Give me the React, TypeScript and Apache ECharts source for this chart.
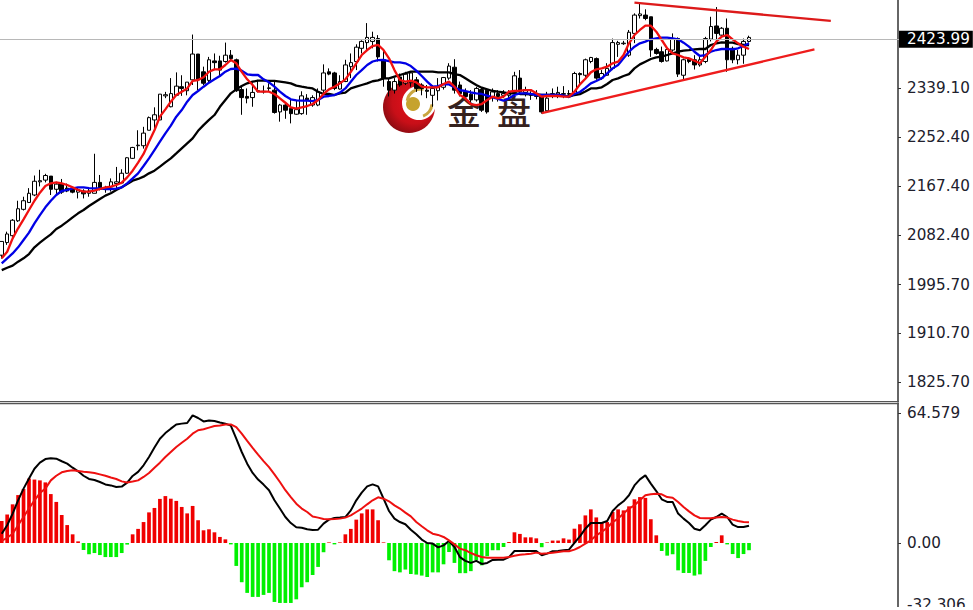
import React, { useEffect, useRef } from "react";
import * as echarts from "echarts";

const opens = [
  2047,2069,2081,2107,2127,2139,2152,2175,2178,2185,
  2162,2172,2164,2162,2157,2159,2155,2155,2174,2162,
  2166,2172,2173,2190,2216,2238,2238,2265,2283,2283,
  2325,2306,2326,2341,2334,2353,2398,2367,2352,2386,
  2386,2385,2396,2388,2336,2324,2322,2333,2332,2338,
  2335,2297,2309,2303,2293,2294,2321,2309,2309,2335,
  2367,2365,2337,2350,2376,2385,2408,2418,2420,2425,
  2388,2350,2335,2358,2347,2348,2353,2344,2335,2326,
  2334,2340,2356,2375,2344,2332,2328,2318,2336,2335,
  2324,2329,2326,2326,2331,2356,2331,2326,2328,2326,
  2299,2326,2328,2328,2329,2329,2364,2361,2385,2390,
  2356,2361,2373,2415,2416,2396,2434,2465,2466,2463,
  2406,2402,2386,2405,2425,2361,2389,2388,2379,2385,
  2424,2447,2431,2443,2408,2388,2396,2420,
];
const closes = [
  2071,2084,2108,2128,2142,2155,2176,2177,2186,2162,
  2171,2157,2159,2157,2161,2154,2159,2174,2162,2163,
  2175,2175,2190,2217,2235,2239,2260,2287,2292,2328,
  2327,2329,2342,2338,2349,2398,2353,2347,2388,2383,
  2370,2396,2390,2334,2322,2321,2331,2334,2333,2339,
  2296,2309,2300,2294,2301,2325,2318,2322,2332,2365,
  2363,2338,2350,2379,2383,2410,2420,2427,2427,2393,
  2356,2335,2350,2344,2363,2365,2338,2338,2333,2338,
  2341,2357,2377,2335,2329,2324,2318,2338,2300,2297,
  2332,2324,2329,2331,2360,2332,2336,2328,2324,2297,
  2321,2329,2331,2329,2328,2364,2362,2388,2392,2356,
  2364,2373,2418,2418,2417,2436,2466,2468,2460,2405,
  2399,2385,2406,2425,2363,2388,2385,2379,2388,2425,
  2446,2434,2443,2388,2388,2396,2420,2427,
];
const lows = [
  2041,2065,2079,2105,2125,2138,2150,2167,2174,2152,
  2152,2154,2157,2155,2146,2146,2149,2155,2160,2156,
  2158,2164,2171,2189,2215,2230,2233,2265,2265,2283,
  2321,2305,2325,2325,2326,2344,2335,2344,2347,2370,
  2358,2383,2385,2332,2292,2312,2306,2331,2329,2332,
  2294,2280,2285,2277,2292,2292,2292,2306,2307,2329,
  2361,2335,2336,2349,2356,2370,2399,2405,2408,2385,
  2341,2324,2329,2341,2344,2341,2332,2326,2321,2306,
  2317,2336,2353,2329,2324,2321,2312,2315,2297,2294,
  2315,2315,2321,2321,2328,2329,2324,2318,2319,2294,
  2296,2321,2321,2321,2321,2326,2344,2358,2382,2353,
  2353,2360,2370,2393,2414,2393,2417,2460,2457,2393,
  2397,2383,2385,2402,2358,2354,2382,2371,2376,2382,
  2420,2417,2428,2367,2382,2380,2381,2418,
];
const highs = [
  2071,2088,2110,2142,2149,2164,2186,2196,2189,2185,
  2175,2180,2172,2165,2165,2162,2164,2224,2187,2168,
  2181,2201,2197,2218,2236,2265,2271,2289,2305,2328,
  2332,2356,2366,2361,2349,2432,2398,2376,2393,2399,
  2395,2418,2405,2390,2341,2338,2347,2353,2343,2347,
  2351,2311,2312,2318,2318,2333,2328,2326,2338,2380,
  2373,2367,2361,2388,2399,2415,2422,2452,2437,2431,
  2405,2356,2356,2364,2367,2367,2358,2347,2344,2344,
  2356,2358,2382,2389,2350,2338,2335,2341,2340,2338,
  2338,2335,2335,2335,2367,2370,2341,2333,2335,2328,
  2332,2338,2341,2342,2335,2367,2366,2390,2393,2392,
  2370,2382,2425,2421,2421,2440,2469,2486,2476,2463,
  2409,2411,2408,2434,2427,2390,2392,2396,2393,2428,
  2463,2480,2445,2460,2411,2405,2425,2430,
];
const maFast = [
  2041.5,2053,2076.4,2093.9,2109.6,2125.8,2142,2156,2167.7,2172.4,
  2174,2172.4,2169.5,2165.4,2160.8,2157.8,2157.8,2159.6,2162.5,2165.4,
  2166.6,2169.5,2173.5,2182.8,2194.5,2208.5,2223.6,2245,2265,2288.7,
  2301.5,2314.9,2326.5,2332.3,2338,2351,2352.7,2357.4,2367,2371.3,
  2371.3,2378.9,2387.6,2381.8,2367,2353.9,2344,2332.3,2332.3,2332.3,
  2328.3,2320.7,2313,2305,2302.6,2305,2307.3,2310.8,2317.8,2328.3,
  2336.4,2341,2346.9,2353.9,2367,2381.8,2396.3,2405,2412,2414,
  2405,2390.5,2370,2352.7,2349.8,2351.5,2348.6,2341,2340,2340,
  2340,2345.7,2349.8,2341,2326.5,2320.7,2310.8,2309,2310.8,2317.8,
  2323.6,2320.7,2323.6,2332.3,2333.5,2334,2335.2,2335.2,2329.4,2323.6,
  2324.8,2324.8,2324.8,2323.6,2323.6,2332.3,2345,2355,2366,2371.3,
  2373,2376,2381.8,2384.7,2396.3,2416.7,2431.2,2440,2447.5,2447.5,
  2437,2422.5,2408,2399.2,2396.3,2392.2,2390.5,2386.4,2381.8,2393.4,
  2405,2419.6,2428.3,2431.2,2423.7,2416.7,2410.9,2406.8,
];
const maMid = [
  2032.8,2041.5,2050,2060.7,2073.5,2086.3,2102.6,2117,2130.5,2142,
  2152,2159,2160.8,2163.6,2165.4,2165.4,2164,2163.6,2163.6,2162.5,
  2162.5,2163,2165.4,2172.4,2181,2189.8,2202.6,2216,2230.5,2245,
  2259.6,2273,2288.7,2300.3,2314.9,2326.5,2333.5,2341,2348,2353.9,
  2359.7,2367.2,2371.9,2372.5,2369,2362.6,2361.4,2361.4,2353.9,2348.6,
  2341,2332.3,2324.8,2319,2317.2,2316.6,2316.6,2316,2317.8,2323.6,
  2324.8,2326.5,2330.6,2338,2349.8,2361.4,2370,2378.9,2385,2387.5,
  2387.6,2385.8,2383.5,2383.5,2381.8,2377,2369,2359.7,2349.8,2341,
  2342.2,2345,2345,2340,2335.2,2333.5,2331,2329.4,2328.3,2325.4,
  2322.4,2319.5,2316.6,2320.7,2326.5,2329.4,2329.4,2328.3,2326.5,2326.5,
  2326.5,2326.5,2326.5,2325.4,2323.6,2328.3,2331.8,2339,2346.9,2350.9,
  2355.6,2364.3,2373,2378.9,2390.5,2402,2410.9,2416.7,2419.6,2423.7,
  2425.4,2426.6,2426.6,2425.4,2423.7,2417.8,2410.9,2402,2394.6,2396.3,
  2402,2405,2406.8,2406.8,2406,2408,2412,2416.7,
];
const maSlow = [
  2021,2025,2028.7,2035.7,2041.5,2049,2060.7,2068.8,2076.4,2083.4,
  2092.7,2098.5,2105.5,2113,2120,2125.8,2132.8,2139,2145,2150.9,
  2155,2160.8,2165.4,2171.2,2177,2180,2184,2189.8,2194.5,2201.5,
  2209,2216,2224.7,2233.5,2242.2,2250.9,2264,2274,2283,2291.6,
  2306,2317.8,2329.4,2336.4,2342.2,2346.9,2349.8,2351.5,2351.5,2351,
  2351,2349.8,2348.6,2346.9,2342.8,2341,2339.3,2338,2332.3,2328.3,
  2328.3,2326.5,2329.4,2330.6,2338,2341,2344,2346.9,2350.5,2352,
  2355.6,2355.6,2358.5,2361.4,2364.3,2367.2,2367.2,2367.2,2367.2,2367.2,
  2366,2366,2366,2363,2361.4,2355.6,2349.8,2344,2339.3,2336.4,
  2333.5,2332.3,2331.2,2329.4,2329.4,2328.3,2328.3,2327.7,2327.7,2326.5,
  2326.5,2326.5,2326.5,2325.4,2323.6,2326.5,2328,2332.5,2338,2338,
  2339.9,2345.7,2352.7,2355.6,2359.7,2363,2373,2380,2384.7,2389.3,
  2392.2,2393.4,2396.3,2399.2,2402,2403.9,2405,2406.2,2406.8,2406.8,
  2413.8,2416.7,2418.4,2417.8,2417.8,2415.5,2413.8,2413.8,
];
const macdHist = [
  10.9,14.2,19.2,23.8,26.8,32,31.5,31.1,30.1,24.3,
  20.4,13.9,8.9,4.3,0.8,-3.5,-5.6,-5,-6,-7,
  -7,-7,-5,-0.8,4.3,7,10.4,15.2,17.4,21.9,
  23.3,22,20.9,17.9,14.7,18.4,11.3,6.3,6.8,5.3,
  3,1.8,-0.7,-11.4,-19.5,-24.8,-26.8,-26.8,-25.8,-24.8,
  -29.3,-29.8,-29.8,-29.8,-28,-22,-19.5,-15.9,-11.9,-4.6,
  0.3,-0.7,0.3,4.3,7,11.6,14.7,16.7,16.7,11.3,
  0.3,-8.6,-14,-14.6,-13.2,-15.4,-15.7,-16.2,-16.9,-14.6,
  -14.6,-10.6,-4.5,-9.9,-15,-15,-14,-8.6,-11.1,-6.6,
  -3.6,-3.6,-2,0.5,5.3,4.5,2.8,2.8,2.3,-2.1,
  0.3,1.2,1.2,2.3,1.7,7.1,9.3,13.7,16.7,12.7,
  10.4,10.4,15.4,16.7,16.2,18.2,21.7,22.8,22.4,11.8,
  3.8,-4,-6.3,-5.6,-13.6,-14.9,-14.9,-16.2,-15.6,-8.9,
  -2,0.5,3.8,-0.7,-5.5,-7.5,-5.5,-3.6,
];
const macdLine = [
  4.6,8.8,14.6,21.2,27,32,36.9,39.9,41.7,42.1,
  41.9,40.6,39.4,37.4,35.6,33.4,31.8,31.3,30.3,29.1,
  28.6,27.8,28,30,33.3,35.3,38.6,42.7,47.4,51.8,
  54.6,56.8,58.9,59.3,59.6,63.4,62.1,60.4,60.9,60.6,
  59.9,59.3,58.3,51.8,45.2,39.4,34.8,31.5,29,26.2,
  21.2,17.1,12.9,9.9,7.8,7.6,6.8,6.5,6.6,9.6,
  11.6,12.4,12.6,12.9,16.2,21.2,25,28.1,29.1,28.1,
  22,15.9,12.1,10.4,9.3,6.6,4.3,1.7,0,-0.3,
  -2.2,-1.2,1,-2,-7,-8.9,-9.9,-8.9,-10.4,-9.9,
  -8.4,-8.3,-8.3,-7,-4,-4,-4,-4,-4,-6.1,
  -5.3,-4.1,-4,-3.6,-3.3,0,3.3,7.1,9.9,9.9,
  9.9,10.9,15.9,18.7,20.7,23.7,28.6,31.6,33.6,29.5,
  25.8,21.7,20.4,20.4,14.6,12.1,9.9,7.1,6.3,8.8,
  11.6,12.9,14.6,12.9,9.1,7.9,7.9,8.6,
];
const macdSignal = [
  1,2.6,4.6,8.8,12.9,17.1,21.2,24.8,27,31.1,
  33.4,35.1,35.8,36.1,35.8,35.4,35.1,34.8,34.1,33.4,
  32.5,31.8,30.6,30.1,30.5,31.1,32.8,34.8,37.4,39.9,
  42.7,45.2,47.7,49.8,51.8,54.3,56,56.5,57.3,58.1,
  58.4,58.9,58.9,57.6,54.3,50.7,47.2,43.9,40.7,37.7,
  34.1,30.3,26.2,22.8,19.5,17.1,15.4,13.2,12.6,11.9,
  11.8,11.9,12.1,12.6,13.7,15.4,17.1,19.2,21.2,22.7,
  22,20.7,18.7,17.1,15.1,13.2,10.4,8.3,6.3,4.6,
  4,3,1.3,-0.7,-2.8,-3.6,-5,-6.1,-7,-7.3,
  -7.3,-7.3,-7.3,-7,-6.3,-5.8,-5.6,-5.3,-4.8,-5.3,
  -5.1,-4.8,-4.5,-4.1,-4.1,-3.3,-2,-0.3,1.3,3.8,
  5.5,7.6,10.4,12.1,14.6,17.1,18.7,21.2,23.7,24.2,
  24.5,24.2,22.8,22.5,20.4,17.9,15.7,13.7,12.4,12.3,
  12.3,12.6,12.9,12.6,11.6,10.9,10.4,10.3,
];
const trendLow = [[99, 2295], [149, 2406]];
const trendHigh = [[116, 2487.6], [152, 2455.7]];
const currentPrice = 2423.99;
const priceTicks = [2423.99, 2339.1, 2252.4, 2167.4, 2082.4, 1995.7, 1910.7, 1825.7];
const macdTicks = [64.579, 0, -32.306];
const slots = Array.from({ length: 165 }, (_, i) => String(i));

const axisFont = { fontFamily: "DejaVu Sans", fontSize: 15.2, color: "#20202c" };

export default function App() {
  const ref = useRef<HTMLDivElement>(null);
  useEffect(() => {
    const chart = echarts.init(ref.current!, null, { renderer: "svg" });
    const candles = opens.map((o, i) => [o, closes[i], lows[i], highs[i]]);
    const line = (name: string, data: any, color: string, xi: number, width = 2.3) => ({
      name,
      type: "line",
      xAxisIndex: xi,
      yAxisIndex: xi,
      data,
      symbol: "none",
      silent: true,
      lineStyle: { color, width },
    });
    chart.setOption({
      animation: false,
      backgroundColor: "#ffffff",
      grid: [
        { left: -1, top: 0, width: 900, height: 402, outerBoundsMode: "none" },
        { left: -1, top: 404, width: 900, height: 204, outerBoundsMode: "none" },
      ],
      xAxis: [0, 1].map((gridIndex) => ({
        type: "category",
        gridIndex,
        data: slots,
        axisLine: { show: false },
        axisTick: { show: false },
        axisLabel: { show: false },
        splitLine: { show: false },
      })),
      yAxis: [
        {
          type: "value",
          gridIndex: 0,
          position: "right",
          offset: -1,
          min: 1790.8,
          max: 2492.3,
          splitLine: { show: false },
          axisLine: { show: true, lineStyle: { color: "#333", width: 1.5 } },
          axisTick: { show: true, length: 3, customValues: priceTicks, lineStyle: { color: "#333" } },
          axisLabel: {
            customValues: priceTicks,
            margin: 1,
            formatter: (v: number) => {
              const t = v.toFixed(2);
              return Math.abs(v - currentPrice) < 0.001 ? `{cur|${t}}` : `{n|${t}}`;
            },
            rich: {
              n: { ...axisFont, padding: [0, 0, 0, 8] },
              cur: { ...axisFont, color: "#fff", backgroundColor: "#000", padding: [1, 3, 1, 8] },
            },
          },
        },
        {
          type: "value",
          gridIndex: 1,
          position: "right",
          offset: -1,
          min: -32.306,
          max: 69.05,
          splitLine: { show: false },
          axisLine: { show: true, lineStyle: { color: "#333", width: 1.5 } },
          axisTick: { show: true, length: 3, customValues: macdTicks, lineStyle: { color: "#333" } },
          axisLabel: {
            customValues: macdTicks,
            margin: 1,
            showMinLabel: true,
            showMaxLabel: true,
            formatter: (v: number) =>
              v < 0 ? `{low|${v}}` : `{n|${v === 0 ? "0.00" : String(v)}}`,
            rich: {
              n: { ...axisFont, padding: [0, 0, 0, 8] },
              low: { ...axisFont, padding: [0, 0, 6, 8] },
            },
          },
        },
      ],
      series: [
        {
          name: "Price",
          type: "candlestick",
          xAxisIndex: 0,
          yAxisIndex: 0,
          data: candles,
          barWidth: 4,
          silent: true,
          itemStyle: {
            color: "#ffffff",
            color0: "#000000",
            borderColor: "#000000",
            borderColor0: "#000000",
            borderWidth: 1,
          },
          markLine: {
            silent: true,
            symbol: "none",
            label: { show: false },
            lineStyle: { color: "#b8b8b8", width: 1, type: "solid" },
            data: [{ yAxis: currentPrice }],
          },
        },
        line("MA slow", maSlow, "#000000", 0),
        line("MA mid", maMid, "#0000e6", 0),
        line("MA fast", maFast, "#f01010", 0),
        line("Support", trendLow, "#ee1c1c", 0),
        line("Resistance", trendHigh, "#dd1a1a", 0),
        {
          name: "MACD hist",
          type: "bar",
          xAxisIndex: 1,
          yAxisIndex: 1,
          barWidth: 3.7,
          silent: true,
          data: macdHist,
          itemStyle: { color: (p: any) => (p.value >= 0 ? "#f00000" : "#00f000") },
        },
        line("MACD", macdLine, "#000000", 1, 2),
        line("Signal", macdSignal, "#ee1010", 1, 2),
      ],
      graphic: {
        elements: [
          {
            type: "circle",
            z: 0,
            shape: { cx: 409, cy: 107, r: 26 },
            style: {
              fill: new echarts.graphic.RadialGradient(0.6, 0.4, 0.7, [
                { offset: 0, color: "#e8101c" },
                { offset: 0.6, color: "#c80f18" },
                { offset: 1, color: "#7e0a10" },
              ]),
            },
          },
          { type: "circle", z: 0, shape: { cx: 419, cy: 103, r: 17 }, style: { fill: "#fff" } },
          { type: "circle", z: 0, shape: { cx: 413, cy: 104, r: 7 }, style: { fill: "#c6a32e" } },
          {
            type: "arc",
            z: 0,
            shape: { cx: 421, cy: 103, r: 14, startAngle: 3.3, endAngle: 4.9 },
            style: { stroke: "#c9a640", lineWidth: 3, fill: "none" },
          },
          {
            type: "arc",
            z: 0,
            shape: { cx: 418, cy: 103, r: 14, startAngle: 0.1, endAngle: 1.2 },
            style: { stroke: "#c9a640", lineWidth: 3, fill: "none" },
          },
          {
            type: "text",
            z: 0,
            x: 447,
            y: 93,
            style: { text: "金", fontFamily: "Noto Sans CJK SC", fontSize: 34, fontWeight: 500, fill: "#35211d" },
          },
          {
            type: "text",
            z: 0,
            x: 497,
            y: 93,
            style: { text: "盘", fontFamily: "Noto Sans CJK SC", fontSize: 34, fontWeight: 500, fill: "#35211d" },
          },
          { type: "rect", z: 100, shape: { x: 0, y: 401, width: 899, height: 1.3 }, style: { fill: "#555" } },
          { type: "rect", z: 100, shape: { x: 0, y: 403, width: 899, height: 1.3 }, style: { fill: "#555" } },
          { type: "rect", z: 100, shape: { x: 0, y: 607, width: 973, height: 3 }, style: { fill: "#fff" } },
        ],
      },
    });
    return () => chart.dispose();
  }, []);
  return (
    <div
      ref={ref}
      style={{ position: "fixed", left: 0, top: 0, width: 973, height: 610, background: "#fff" }}
    />
  );
}
